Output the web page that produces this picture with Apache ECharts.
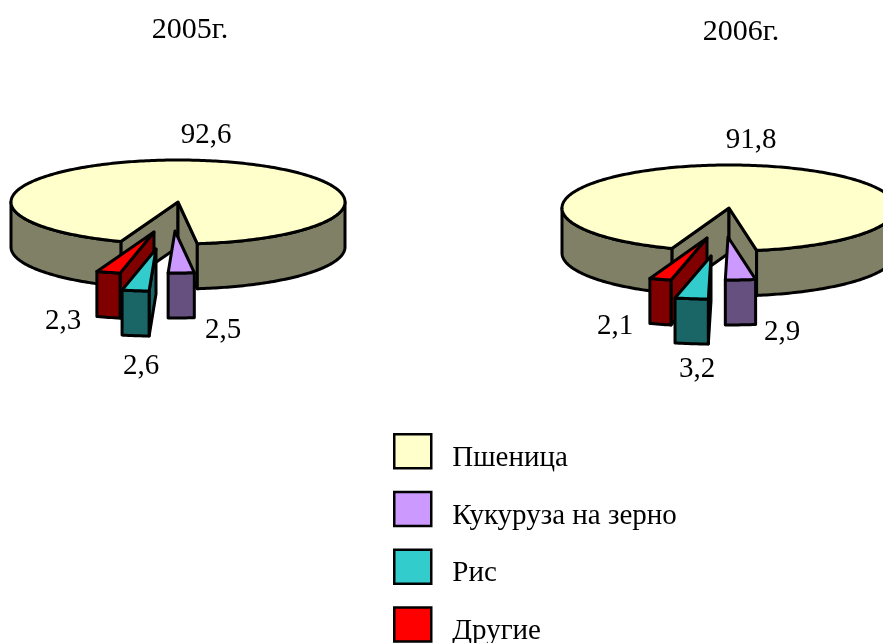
<!DOCTYPE html>
<html>
<head>
<meta charset="utf-8">
<style>
    html, body { margin: 0; padding: 0; background: #fff; }
    #chartsbox { width: 883px; height: 643px; }
</style>
<script src="https://cdn.jsdelivr.net/npm/echarts@6/dist/echarts.min.js"></script>
</head>
<body>
<div id="chartsbox"></div>
<script type="text/javascript">
    // данные
    var aYears = ['2005г.', '2006г.'];
    var aCategories = ['Пшеница', 'Кукуруза на зерно', 'Рис', 'Другие'];
    var aValues2005 = [92.6, 2.5, 2.6, 2.3];
    var aValues2006 = [91.8, 2.9, 3.2, 2.1];
    var aValues = [aValues2005, aValues2006];

    // цвета: верх и боковая сторона
    var aTopColors = ['#FFFFCC', '#CC99FF', '#33CCCC', '#FF0000'];
    var aSideColors = ['#808066', '#665080', '#1A6666', '#800000'];

    // расположение диаграмм
    var FONT_FAMILY = '"Liberation Serif", "Times New Roman", serif';
    var FONT_SIZE = 29;
    var FIRST_ANGLE = 200;   // начало первого сектора, по часовой от верха
    var DEPTH = 45;
    var aPies = [
        { cx: 178, cy: 202, rx: 167, ry: 42 },
        { cx: 729, cy: 208, rx: 167, ry: 43 }
    ];
    var aTitlePos = [[190, 15], [741, 17]];
    // смещение вынесенных секторов
    var aExplode = [
        [[0, 0], [-3, 29], [-22, 47], [-24, 30]],
        [[0, 0], [-1, 29], [-18, 48], [-22, 30]]
    ];
    // центры подписей
    var aLabelPos = [
        [[206, 135], [223, 330], [141, 366], [63, 321]],
        [[751, 140], [782, 332], [697, 369], [615, 326]]
    ];

    function SliceAngles(iPie, iCat) {
        var values = aValues[iPie], total = 0, before = 0;
        for (var i = 0; i < values.length; i++) {
            total += values[i];
            if (i < iCat) { before += values[i]; }
        }
        return [
            FIRST_ANGLE + before / total * 360,
            FIRST_ANGLE + (before + values[iCat]) / total * 360
        ];
    }

    function Part(points, fill) {
        return {
            type: 'polygon',
            shape: { points: points },
            style: { fill: fill, stroke: '#000', lineWidth: 3, lineJoin: 'round' }
        };
    }

    // рисуем один сектор: стенки, внешняя сторона, верх, подпись
    function RenderSlice(iCat) {
        return function (params, api) {
            var iPie = api.value(0);
            var pie = aPies[iPie];
            var off = aExplode[iPie][iCat];
            var angles = SliceAngles(iPie, iCat);
            var ox = pie.cx + off[0], oy = pie.cy + off[1];
            var side = aSideColors[iCat];

            function At(deg) {
                var a = deg * Math.PI / 180;
                return [ox + pie.rx * Math.sin(a), oy - pie.ry * Math.cos(a)];
            }
            function Down(p) { return [p[0], p[1] + DEPTH]; }

            var arc = [], deg;
            for (deg = angles[0]; deg < angles[1]; deg += 1) { arc.push(deg); }
            arc.push(angles[1]);

            var children = [];
            var apex = [ox, oy];
            var first = At(angles[0]), last = At(angles[1]);

            // стенки от центра, только обращённые к зрителю
            if (first[0] < apex[0]) {
                children.push(Part([apex, first, Down(first), Down(apex)], side));
            }
            if (last[0] > apex[0]) {
                children.push(Part([apex, last, Down(last), Down(apex)], side));
            }

            // внешняя сторона, только передняя часть дуги
            var run = [];
            function Flush() {
                if (run.length > 1) {
                    var pts = run.map(At);
                    children.push(Part(pts.concat(pts.map(Down).reverse()), side));
                }
                run = [];
            }
            arc.forEach(function (d) {
                if (Math.cos(d * Math.PI / 180) <= 1e-9) { run.push(d); } else { Flush(); }
            });
            Flush();

            // верх
            children.push(Part([apex].concat(arc.map(At)), api.visual('color')));

            // подпись значения
            var pos = aLabelPos[iPie][iCat];
            children.push({
                type: 'text',
                style: {
                    text: String(api.value(1)).replace('.', ','),
                    x: pos[0], y: pos[1],
                    align: 'center', verticalAlign: 'middle',
                    font: FONT_SIZE + 'px ' + FONT_FAMILY, fill: '#000'
                }
            });
            return { type: 'group', children: children };
        };
    }

    function MakeSeries(iCat) {
        return {
            name: aCategories[iCat],
            type: 'custom',
            coordinateSystem: 'none',
            renderItem: RenderSlice(iCat),
            itemStyle: { color: aTopColors[iCat] },
            data: aValues.map(function (values, iPie) { return [iPie, values[iCat]]; })
        };
    }

    var myChart = echarts.init(document.getElementById('chartsbox'));
    var option = {
        backgroundColor: '#fff',
        animation: false,
        title: aYears.map(function (text, i) {
            return {
                text: text,
                left: aTitlePos[i][0],
                top: aTitlePos[i][1],
                padding: 0,
                textAlign: 'center',
                textStyle: {
                    fontFamily: FONT_FAMILY,
                    fontSize: 30, fontWeight: 'normal', color: '#000'
                }
            };
        }),
        legend: {
            data: aCategories,
            orient: 'vertical',
            left: 393,
            top: 433,
            height: 300,
            padding: 0,
            itemWidth: 37,
            itemHeight: 34,
            itemGap: 18,
            icon: 'rect',
            selectedMode: false,
            itemStyle: { borderColor: '#000', borderWidth: 2.5 },
            formatter: '{a|{name}}',
            textStyle: {
                rich: {
                    a: {
                        fontFamily: FONT_FAMILY,
                        fontSize: FONT_SIZE, color: '#000',
                        padding: [14, 0, 0, 16]
                    }
                }
            }
        },
        // порядок рисования: пшеница, кукуруза, другие, рис
        series: [0, 1, 3, 2].map(MakeSeries)
    };
    myChart.setOption(option);
</script>
</body>
</html>
